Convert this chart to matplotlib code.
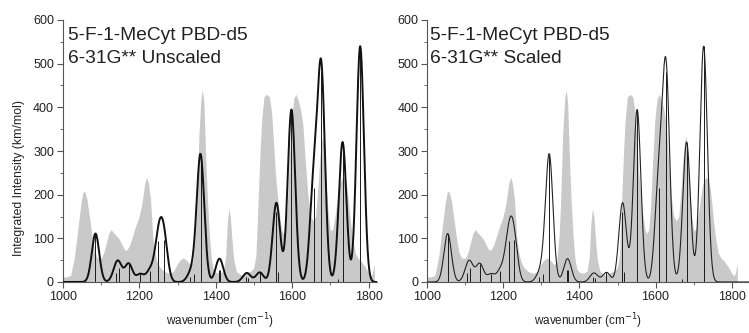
import numpy as np
import matplotlib
matplotlib.use("Agg")
import matplotlib.pyplot as plt
from matplotlib.ticker import MultipleLocator

plt.rcParams["font.family"] = ["Liberation Sans", "DejaVu Sans"]

# Experimental IR spectrum (grey band), wavenumber / intensity
exp_wn = [1000, 1010, 1020, 1030, 1040, 1047, 1052, 1057, 1063, 1070, 1076, 1083,
          1090, 1100, 1107, 1113, 1120, 1126, 1133, 1140, 1148, 1155, 1162, 1168,
          1175, 1182, 1190, 1198, 1205, 1210, 1214, 1219, 1224, 1229, 1235, 1240,
          1245, 1252, 1261, 1270, 1280, 1290, 1297, 1306, 1315, 1323, 1333, 1340,
          1346, 1350, 1356, 1361, 1365, 1369, 1373, 1378, 1383, 1388, 1393, 1400,
          1411, 1420, 1426, 1430, 1434, 1438, 1442, 1447, 1454, 1467, 1480, 1493,
          1500, 1505, 1511, 1516, 1520, 1526, 1533, 1540, 1546, 1551, 1556, 1561,
          1566, 1572, 1577, 1582, 1587, 1592, 1598, 1604, 1610, 1616, 1622, 1628,
          1634, 1641, 1648, 1655, 1661, 1667, 1672, 1676, 1680, 1685, 1690, 1695,
          1700, 1706, 1712, 1718, 1724, 1732, 1738, 1743, 1748, 1752, 1758, 1765,
          1772, 1778, 1785, 1791, 1800, 1806, 1810, 1813, 1815]
exp_int = [11, 12, 15, 58, 130, 180, 205, 208, 188, 145, 105, 69,
           55, 54, 68, 88, 112, 120, 112, 106, 97, 84, 73, 74,
           86, 105, 128, 146, 172, 200, 226, 240, 225, 190, 104, 70,
           50, 36, 27, 22, 20, 25, 38, 50, 55, 50, 40, 45,
           100, 172, 340, 420, 440, 410, 300, 190, 110, 55, 30, 22,
           20, 25, 60, 134, 168, 150, 100, 50, 24, 16, 21, 26,
           35, 60, 190, 300, 370, 424, 430, 424, 390, 320, 250, 200,
           160, 120, 111, 120, 170, 270, 370, 420, 430, 415, 395, 360,
           280, 200, 150, 140, 150, 210, 280, 320, 333, 290, 210, 150,
           118, 120, 150, 190, 225, 240, 236, 219, 180, 142, 100, 66,
           55, 50, 42, 35, 20, 14, 20, 35, 38]

# Computed harmonic modes (6-31G**): unscaled wavenumbers and IR intensities
calc_wn = [1085, 1138, 1146, 1172, 1202, 1228, 1250, 1264, 1332, 1342, 1360,
           1408, 1411, 1478, 1485, 1515, 1558, 1563, 1598, 1656, 1676, 1719,
           1732, 1778]
calc_int = [111, 20, 33, 42, 18, 26, 95, 97, 12, 18, 290,
            27, 27, 12, 10, 22, 160, 24, 395, 215, 482, 6,
            318, 540]
freq_scale = 0.971
gauss_fwhm = 23.0

panel_titles = ["5-F-1-MeCyt PBD-d5\n6-31G** Unscaled",
                "5-F-1-MeCyt PBD-d5\n6-31G** Scaled"]
x_label = "wavenumber (cm$^{-1}$)"
y_label = "Integrated Intensity (km/mol)"


def broaden(grid, centers, heights, fwhm):
    sigma = fwhm / (2.0 * np.sqrt(2.0 * np.log(2.0)))
    spec = np.zeros_like(grid)
    for c, h in zip(centers, heights):
        spec += h * np.exp(-0.5 * ((grid - c) / sigma) ** 2)
    return spec


W, H = 749, 333
fig = plt.figure(figsize=(W / 100, H / 100), dpi=100)

panels = [
    dict(rect=(63, 20, 377, 282), xmax=1822, scale=1.0, lw=1.4, lc="#111111"),
    dict(rect=(427.3, 20, 749.5, 282), xmax=1847, scale=freq_scale, lw=0.8, lc="#222222"),
]

grid = np.linspace(1000, 1850, 2000)
for p, title in zip(panels, panel_titles):
    x0, y0, x1, y1 = p["rect"]
    ax = fig.add_axes([x0 / W, 1 - y1 / H, (x1 - x0) / W, (y1 - y0) / H])
    ax.fill_between(exp_wn, 0, exp_int, color="#c9c9c9", lw=0, zorder=1)

    centers = np.array(calc_wn) * p["scale"]
    ax.vlines(centers, 0, calc_int, color="#1a1a1a", lw=0.7, zorder=2)
    ax.plot(grid, broaden(grid, centers, calc_int, gauss_fwhm),
            color=p["lc"], lw=p["lw"], zorder=3)

    ax.set_xlim(1000, p["xmax"])
    ax.set_ylim(0, 600)
    ax.xaxis.set_major_locator(MultipleLocator(200))
    ax.xaxis.set_minor_locator(MultipleLocator(100))
    ax.yaxis.set_major_locator(MultipleLocator(100))
    ax.yaxis.set_minor_locator(MultipleLocator(50))
    for side in ("top", "right"):
        ax.spines[side].set_visible(False)
    for side in ("left", "bottom"):
        ax.spines[side].set_color("#555555")
        ax.spines[side].set_linewidth(0.8)
    ax.tick_params(which="major", direction="out", length=4, width=0.8,
                   color="#555555", labelsize=9, labelcolor="#222222", pad=2.5)
    ax.tick_params(which="minor", direction="out", length=2, width=0.6,
                   color="#555555")
    ax.set_xlabel(x_label, fontsize=8.5, color="#222222", labelpad=6)

    line1, line2 = title.split("\n")
    tx = (5 if p["scale"] == 1.0 else 3) / (x1 - x0)
    ax.text(tx, (y1 - 40) / (y1 - y0), line1, transform=ax.transAxes,
            fontsize=13.8, va="baseline", ha="left", color="#222222")
    ax.text(tx, (y1 - 63) / (y1 - y0), line2, transform=ax.transAxes,
            fontsize=13.8, va="baseline", ha="left", color="#222222")

    if p["scale"] == 1.0:
        ax.set_ylabel(y_label, fontsize=8.8, color="#222222")
        ax.yaxis.set_label_coords(-38 / (x1 - x0), (y1 - 177.5) / (y1 - y0))

fig.savefig("out.png", dpi=100)
